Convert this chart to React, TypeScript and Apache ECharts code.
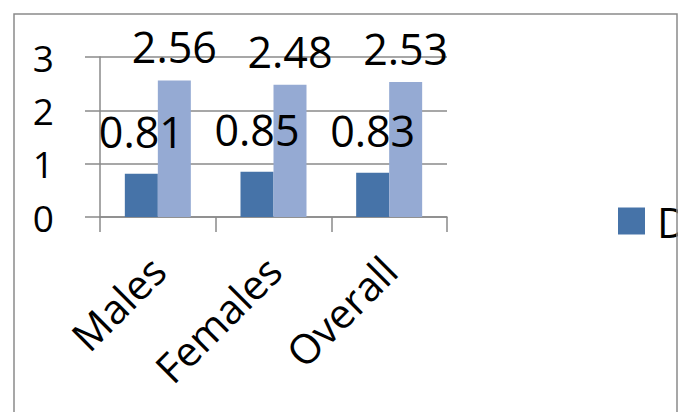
import React, { useEffect, useRef } from "react";
import * as echarts from "echarts";

const categories = ["Males", "Females", "Overall"];
const seriesDark = [0.81, 0.85, 0.83];
const seriesLight = [2.56, 2.48, 2.53];
const legendNames = ["D"];

const FONT = "'Open Sans', sans-serif";
const GREY = "#8a8a8a";

export default function App() {
  const ref = useRef<HTMLDivElement>(null);
  useEffect(() => {
    if (!ref.current) return;
    const chart = echarts.init(ref.current, null, { renderer: "svg" });
    chart.setOption({
      animation: false,
      backgroundColor: "#ffffff",
      textStyle: { fontFamily: FONT },
      grid: { left: 100, top: 57, width: 347, height: 160, containLabel: false },
      legend: {
        data: legendNames,
        left: 618,
        top: 200,
        padding: 0,
        itemWidth: 27,
        itemHeight: 27,
        icon: "rect",
        textStyle: { fontSize: 42, fontFamily: FONT, color: "#000", padding: [0, 0, 0, 7] },
      },
      xAxis: {
        type: "category",
        data: categories,
        axisLine: { lineStyle: { color: GREY, width: 1.5 } },
        axisTick: { show: true, length: 15, alignWithLabel: false, interval: 0, lineStyle: { color: GREY, width: 1.5 } },
        axisLabel: { rotate: 45, fontSize: 41, fontFamily: FONT, color: "#000", margin: 46, interval: 0 },
      },
      yAxis: {
        type: "value",
        min: 0,
        max: 3,
        interval: 1,
        axisLine: { show: true, lineStyle: { color: GREY, width: 1.5 } },
        axisTick: { show: true, length: 15, lineStyle: { color: GREY, width: 1.5 } },
        splitLine: { show: true, lineStyle: { color: GREY, width: 1.5 } },
        axisLabel: { fontSize: 37, fontFamily: FONT, color: "#000", margin: 46 },
      },
      series: [
        {
          name: "D",
          type: "bar",
          data: seriesDark,
          barWidth: 33,
          barGap: "0%",
          itemStyle: { color: "#4673a8" },
          label: { show: true, position: "top", distance: 21, fontSize: 43, fontFamily: FONT, color: "#000" },
        },
        {
          name: "E",
          type: "bar",
          data: seriesLight,
          barWidth: 33,
          barGap: "0%",
          itemStyle: { color: "#95aad3" },
          label: { show: true, position: "top", distance: 12, fontSize: 43, fontFamily: FONT, color: "#000" },
        },
      ],
      graphic: [
        {
          type: "rect",
          shape: { x: 14, y: 14, width: 663, height: 600 },
          style: { fill: "none", stroke: GREY, lineWidth: 1.5 },
          z: 100,
        },
      ],
    });
    return () => chart.dispose();
  }, []);
  return (
    <div style={{ position: "fixed", left: 0, top: 0, width: 678, height: 412, overflow: "hidden", background: "#fff" }}>
      <div ref={ref} style={{ width: 678, height: 412 }} />
    </div>
  );
}
